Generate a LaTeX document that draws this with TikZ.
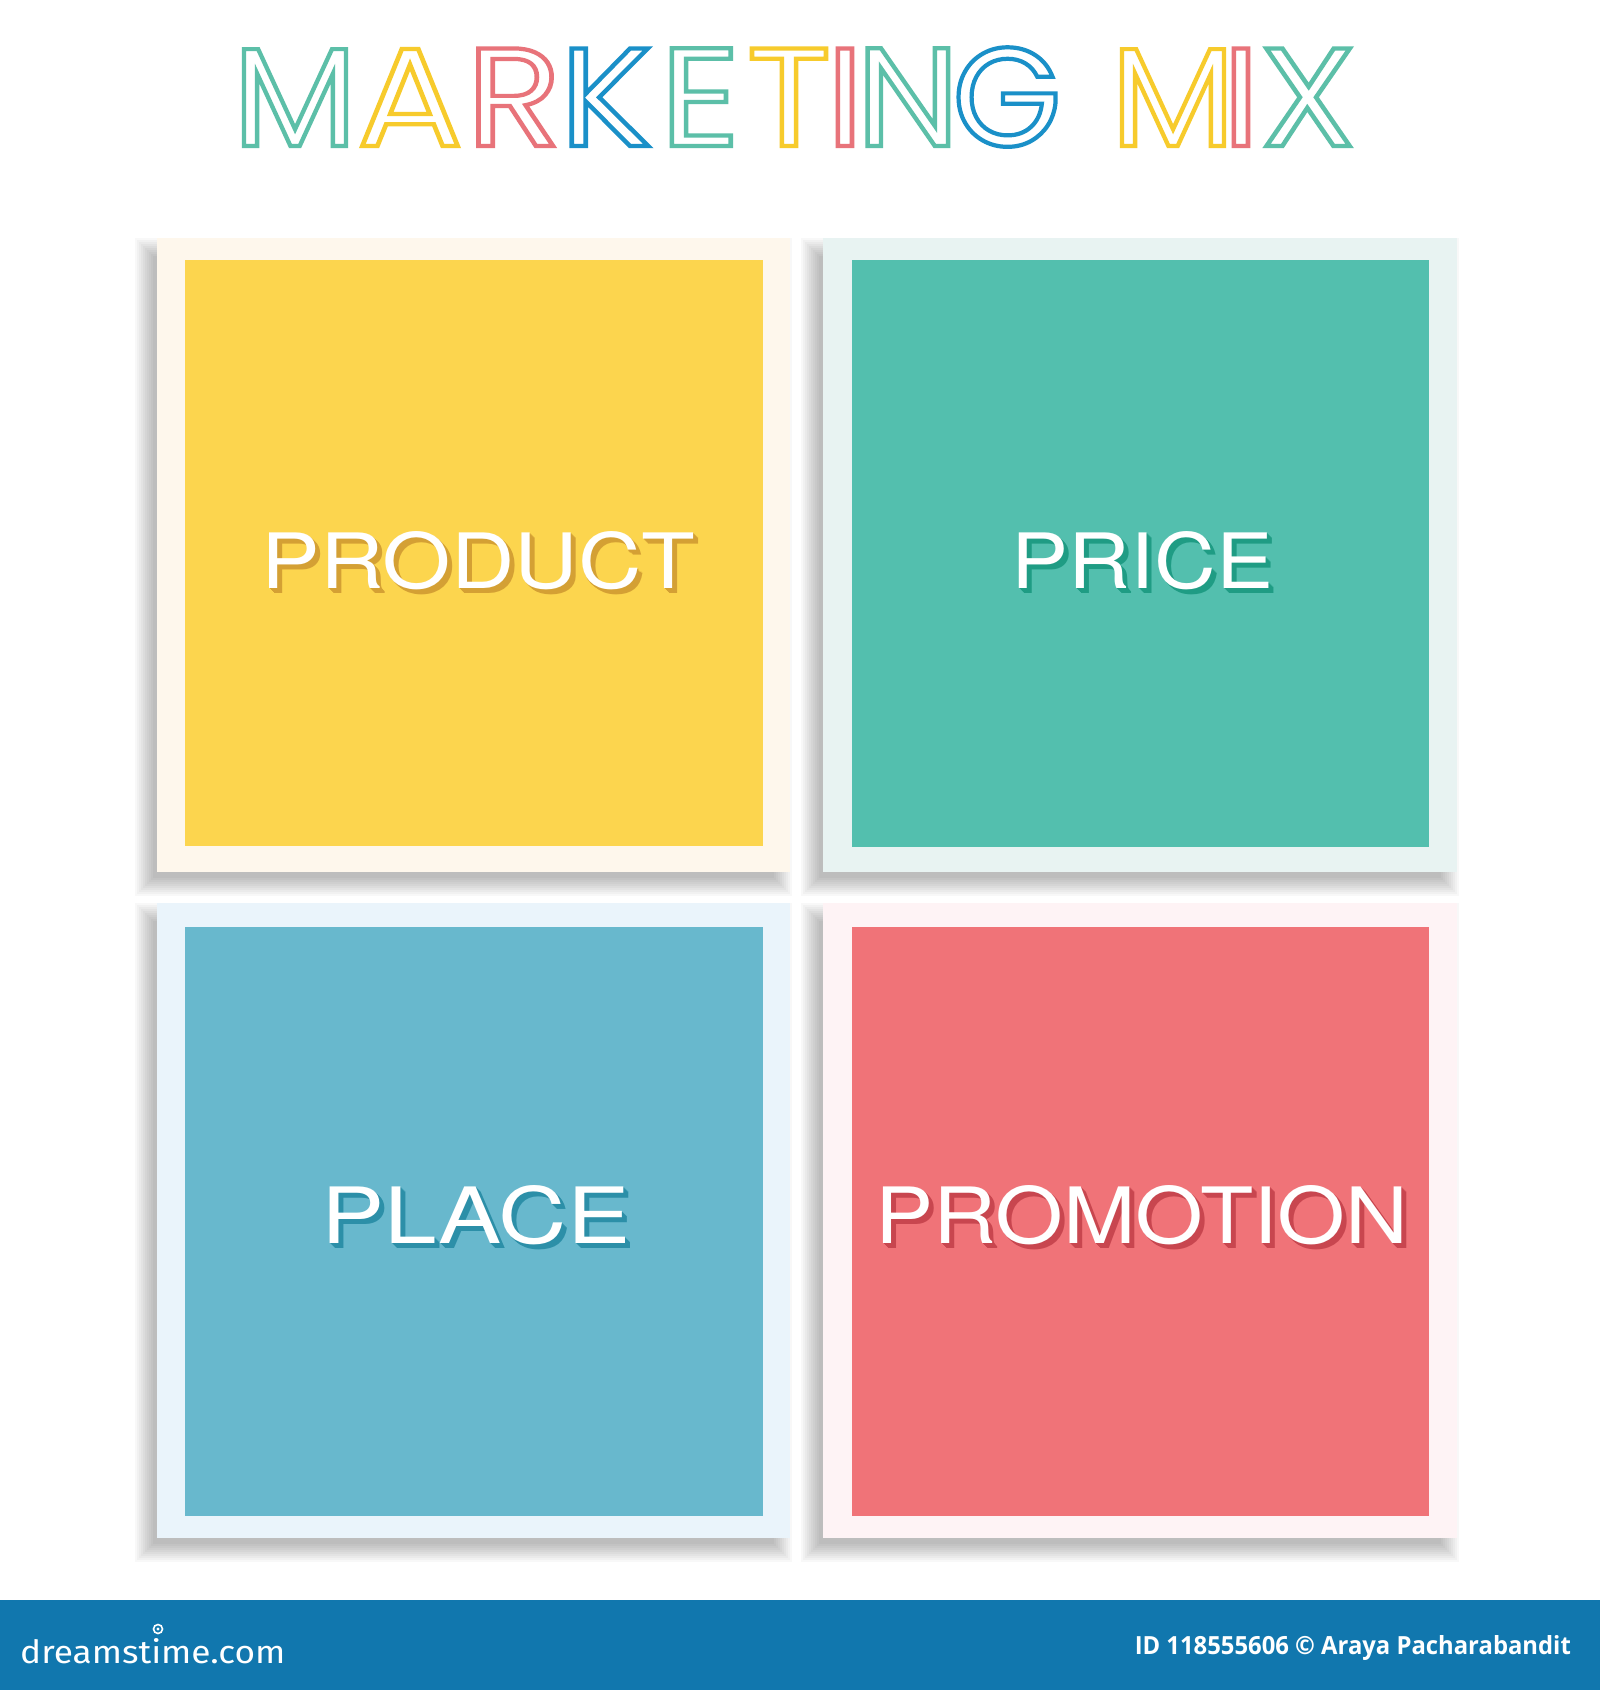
\documentclass[tikz,border=0pt]{standalone}
\usepackage{fontspec}
\usepackage{graphicx}
\newfontfamily\titlefont{Poppins}
\newfontfamily\lblfont{TeX Gyre Heros}
\newfontfamily\barfont{Open Sans}
\newfontfamily\logofont{Fira Sans}
\definecolor{tteal}{HTML}{5CBFA8}
\definecolor{tyellow}{HTML}{F7CB2C}
\definecolor{tred}{HTML}{E8737A}
\definecolor{tblue}{HTML}{1A90C8}
\definecolor{yin}{HTML}{FCD54E}
\definecolor{yfr}{HTML}{FEF7EC}
\definecolor{gin}{HTML}{53BFAE}
\definecolor{gfr}{HTML}{E8F3F2}
\definecolor{bin}{HTML}{68B8CD}
\definecolor{bfr}{HTML}{EAF4FB}
\definecolor{rin}{HTML}{F07378}
\definecolor{rfr}{HTML}{FEF3F5}
\definecolor{ysh}{HTML}{D4A034}
\definecolor{gsh}{HTML}{1F9C84}
\definecolor{bsh}{HTML}{2C8FA8}
\definecolor{rsh}{HTML}{C8464F}
\definecolor{barblue}{HTML}{1177AE}
\newcommand\outl[3]{\scalebox{#3}[1]{\special{pdf:literal direct q 1 Tr 4.2 w}\textcolor{#1}{#2}\special{pdf:literal direct 0 Tr Q}}}
\newcommand\boxshadow[4]{\foreach \e in {-6,-4,...,12}{\fill[black,opacity=0.028] ({#1-10-\e},{#2+12-\e}) rectangle ({#3-10+\e},{#4+12+\e});}}
\newcommand\shcopy[2]{\rlap{\smash{\kern#1pt\raisebox{-#1pt}{#2}}}}
\newcommand\stext[4]{{\color{#1}\shcopy{5}{\resizebox{#2}{#3}{#4}}\shcopy{4}{\resizebox{#2}{#3}{#4}}\shcopy{3}{\resizebox{#2}{#3}{#4}}\shcopy{2}{\resizebox{#2}{#3}{#4}}\shcopy{1}{\resizebox{#2}{#3}{#4}}}\textcolor{white}{\resizebox{#2}{#3}{#4}}}
\begin{document}
\begin{tikzpicture}[x=1pt,y=-1pt,
  tl/.style={anchor=base,inner sep=0pt,font=\titlefont\fontsize{140}{140}\selectfont},
  lbl/.style={inner sep=0pt,font=\lblfont}]
\useasboundingbox (0,0) rectangle (1600,1690);
\fill[white] (0,0) rectangle (1600,1690);
% title
\node[tl] (t1) at (295,146) {\outl{tteal}{M}{1.03}};
\node[tl] (t2) at (410,146) {\outl{tyellow}{A}{1.12}};
\node[tl] (t3) at (514,146) {\outl{tred}{R}{1.12}};
\node[tl] (t4) at (606,146) {\outl{tblue}{K}{1.1}};
\node[tl] (t5) at (700,146) {\outl{tteal}{E}{1.12}};
\node[tl] (t6) at (789,146) {\outl{tyellow}{T}{1.12}};
\node[tl] (t7) at (845,146) {\outl{tred}{I}{1.1}};
\node[tl] (t8) at (908,146) {\outl{tteal}{N}{1.05}};
\node[tl] (t9) at (1007,146) {\outl{tblue}{G}{1.0}};
\node[tl] (t10) at (1173,146) {\outl{tyellow}{M}{1.03}};
\node[tl] (t11) at (1241,146) {\outl{tred}{I}{1.1}};
\node[tl] (t12) at (1308,146) {\outl{tteal}{X}{1.12}};
% shadows
\boxshadow{157}{238}{790}{872}
\boxshadow{823}{238}{1457}{872}
\boxshadow{157}{903}{790}{1538}
\boxshadow{823}{903}{1457}{1538}
% frames
\fill[yfr] (157,238) rectangle (790,872);
\fill[yin] (185,260) rectangle (763,846);
\fill[gfr] (823,238) rectangle (1457,872);
\fill[gin] (852,260) rectangle (1429,847);
\fill[bfr] (157,903) rectangle (790,1538);
\fill[bin] (185,927) rectangle (763,1516);
\fill[rfr] (823,903) rectangle (1457,1538);
\fill[rin] (852,927) rectangle (1429,1516);
% labels
\node[lbl] (prod) at (478.5,560.5) {\stext{ysh}{433pt}{57pt}{PRODUCT}};
\node[lbl] (price) at (1142.5,561) {\stext{gsh}{261pt}{57pt}{PRICE}};
\node[lbl] (place) at (476,1215) {\stext{bsh}{308pt}{58pt}{PLACE}};
\node[lbl] (prom) at (1142,1215) {\stext{rsh}{532pt}{58pt}{PROMOTION}};
% bottom bar
\fill[barblue] (0,1600) rectangle (1600,1690);
\node[anchor=base west,inner sep=0pt,text=white,font=\logofont] (logo) at (20,1663) {\resizebox{265pt}{25pt}{dreamstime.com}};
\draw[white,line width=1.6] (158,1629) circle (4.5);
\fill[white] (158,1629) circle (1.6);
\node[anchor=base east,inner sep=0pt,text=white,font=\barfont\bfseries] (idtext) at (1571,1654) {\resizebox{436pt}{19pt}{ID 118555606 © Araya Pacharabandit}};
\end{tikzpicture}
\end{document}
